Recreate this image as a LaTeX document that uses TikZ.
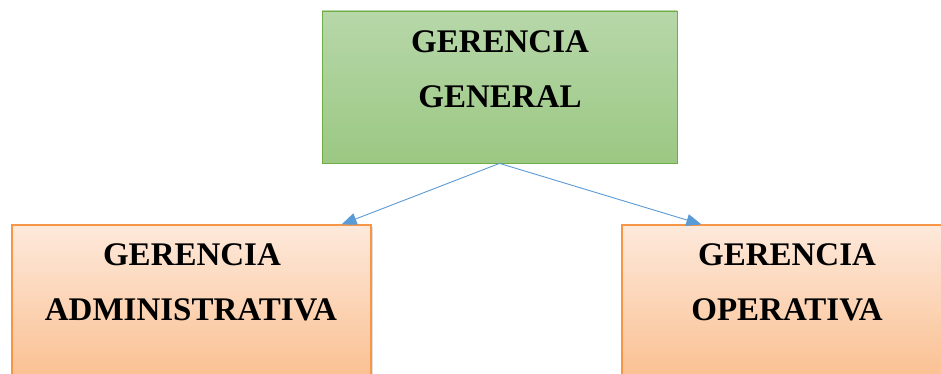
\documentclass[tikz,border=0pt]{standalone}
\usepackage{fontspec}
\setmainfont{Liberation Serif}
\usetikzlibrary{arrows.meta,calc,shadows}
\definecolor{gtop}{HTML}{B7D7A9}
\definecolor{gbot}{HTML}{9BC883}
\definecolor{gline}{HTML}{70AD47}
\definecolor{otop}{HTML}{FDE9DB}
\definecolor{obot}{HTML}{FAB985}
\definecolor{oline}{HTML}{F79646}
\definecolor{arr}{HTML}{5B9BD5}
\tikzset{
  greenbox/.style={draw=gline, line width=0.8pt, top color=gtop, bottom color=gbot, inner sep=0pt},
  orangebox/.style={draw=oline, line width=1.2pt, top color=otop, bottom color=obot, inner sep=0pt,
    drop shadow={opacity=0.25, shadow xshift=2pt, shadow yshift=-2pt}},
  lbl/.style={font=\bfseries\fontsize{33}{38}\selectfont, anchor=base, inner sep=0pt},
  conn/.style={draw=arr, line width=0.9pt, -{Triangle[length=15pt,width=12pt]}}
}
\begin{document}
\begin{tikzpicture}[x=1pt,y=-1pt]
\useasboundingbox (0,0) rectangle (941,374);
\clip (0,0) rectangle (941,374);
\fill[white] (0,0) rectangle (941,374);
\node[greenbox, minimum width=355pt, minimum height=152pt] (gen) at (499.5,87) {};
\node[orangebox, minimum width=359pt, minimum height=180pt] (adm) at (191.5,315) {};
\node[orangebox, minimum width=330pt, minimum height=180pt] (ope) at (787,315) {};
\node[lbl] (gen1) at (500,53) {GERENCIA};
\node[lbl] (gen2) at (500,108) {GENERAL};
\node[lbl] (adm1) at (192,265) {GERENCIA};
\node[lbl] (adm2) at (191,320) {ADMINISTRATIVA};
\node[lbl] (ope1) at (787,265) {GERENCIA};
\node[lbl] (ope2) at (787,320) {OPERATIVA};
\coordinate (gs) at ($(gen.south)+(0,0)$);
\draw[conn] (gs) -- ($(adm.north east)+(-30,0)$);
\draw[conn] (gs) -- ($(ope.north west)+(80,0)$);
\end{tikzpicture}
\end{document}
